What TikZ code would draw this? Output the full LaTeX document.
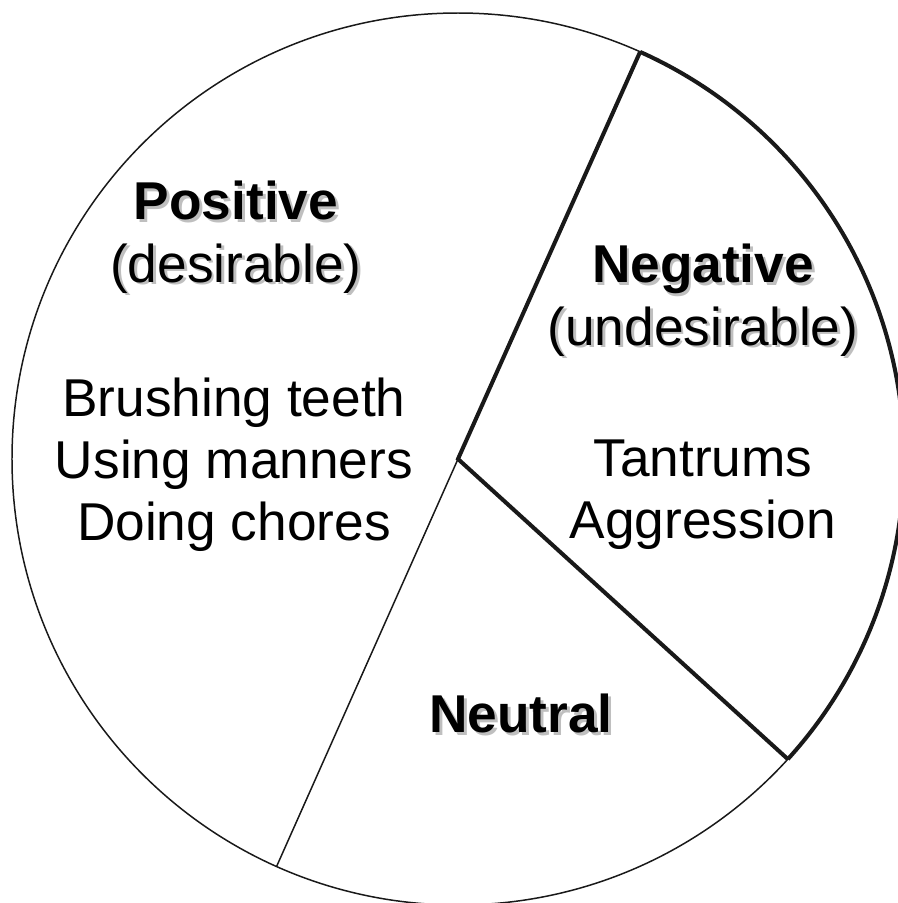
\documentclass[tikz,border=0pt]{standalone}
\usepackage{fontspec}
\setmainfont{Liberation Sans}
\usetikzlibrary{calc}

% grey drop shadow behind a heading
\newcommand{\shtext}[1]{\rlap{\hspace{1.6pt}\raisebox{-1.6pt}{\color{black!25}#1}}#1}

\begin{document}
\begin{tikzpicture}[
    rim/.style={
      draw=black!90,
      line width=0.85pt
    },
    border/.style={
      draw=black!90,
      line width=2.3pt,
      line join=miter
    },
    head/.style={
      align=center,
      inner sep=0pt,
      font=\fontsize{30.3}{35.6}\selectfont
    },
    items/.style={
      align=center,
      inner sep=0pt,
      font=\fontsize{30.3}{35.2}\selectfont
    }
  ]
    \useasboundingbox (-9.16,-8.88) rectangle (8.80,9.18);

    \coordinate (c) at (0,0);
    \coordinate (top) at (65.9:8.92);
    \coordinate (br) at (-42.3:8.92);
    \coordinate (bl) at (-114:8.92);

    % pie outline
    \draw[rim] (c) circle (8.92);
    \draw[rim] (c) -- (bl);
    \draw[border] (top) arc[start angle=65.9, end angle=-42.3, radius=8.92];
    \draw[border] (top) -- (c) -- (br);

    % labels
    \node[head] (pos) at (-4.44,4.41) {\shtext{\textbf{Positive}}\\\shtext{(desirable)}};
    \node[items] (poslist) at (-4.48,-0.12) {Brushing teeth\\Using manners\\Doing chores};
    \node[head] (neg) at (4.9,3.15) {\shtext{\textbf{Negative}}\\\shtext{(undesirable)}};
    \node[items] (neglist) at (4.9,-0.72) {Tantrums\\Aggression};
    \node[head] (neu) at (1.26,-5.12) {\shtext{\textbf{Neutral}}};
  \end{tikzpicture}
\end{document}
